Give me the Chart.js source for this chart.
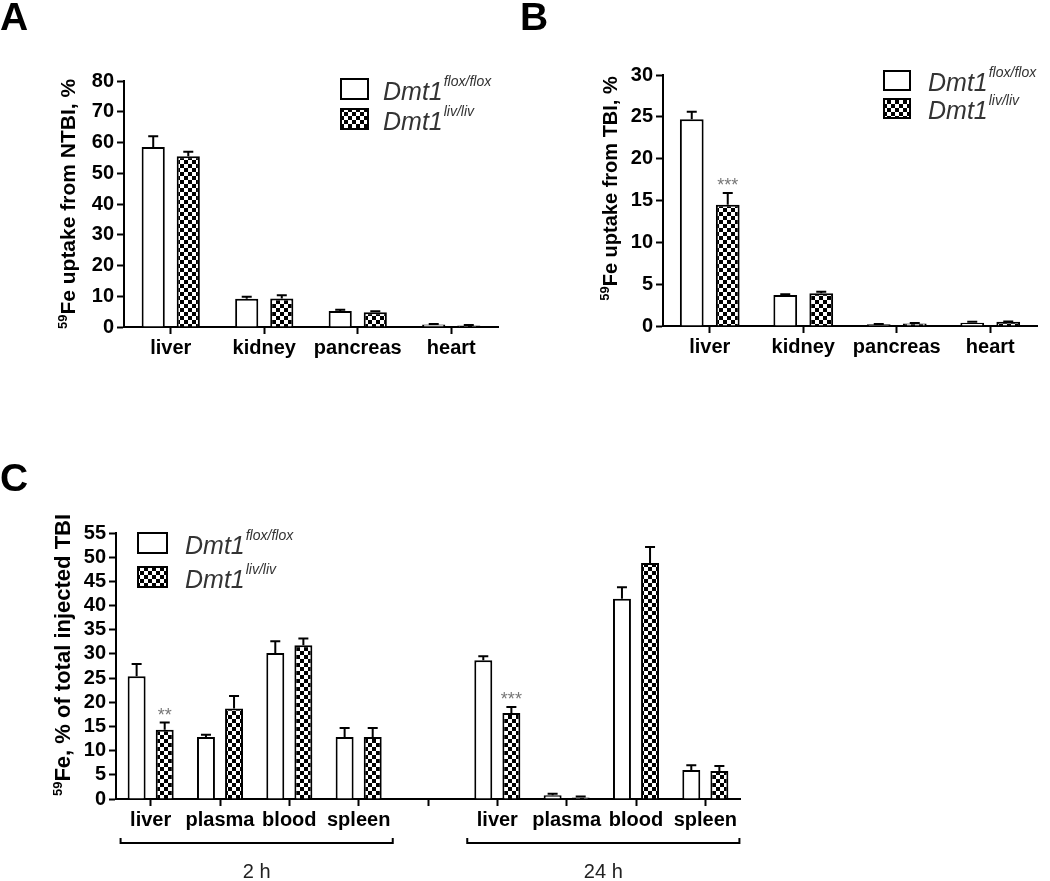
<!DOCTYPE html>
<html>
<head>
<meta charset="utf-8">
<script src="https://cdn.jsdelivr.net/npm/chart.js@4.4.0/dist/chart.umd.min.js"></script>
<style>
  body { margin: 0; background: #fff; width: 1050px; height: 881px; position: relative; overflow: hidden; }
  canvas { position: absolute; }
</style>
</head>
<body>
<canvas id="chartA" width="525" height="375" style="left:0;top:0"></canvas>
<canvas id="chartB" width="535" height="375" style="left:515px;top:0"></canvas>
<canvas id="chartC" width="760" height="426" style="left:0;top:455px"></canvas>
<script>
const FONT = '"Liberation Sans", Arial, sans-serif';

// series names (legend)
const seriesName = ['Dmt1', 'Dmt1'];
const seriesSup = ['flox/flox', 'liv/liv'];

// panel A: uptake from NTBI
const categoriesA = ['liver', 'kidney', 'pancreas', 'heart'];
const floxA = [58.5, 9.2, 5.2, 0.8];
const floxSemA = [3.5, 0.6, 0.4, 0.2];
const livA = [55.5, 9.3, 4.8, 0.5];
const livSemA = [1.5, 1.0, 0.3, 0.15];
const sigA = ['', '', '', ''];
const yTicksA = [0, 10, 20, 30, 40, 50, 60, 70, 80];

// panel B: uptake from TBI
const categoriesB = ['liver', 'kidney', 'pancreas', 'heart'];
const floxB = [24.7, 3.7, 0.2, 0.4];
const floxSemB = [0.9, 0.1, 0.05, 0.1];
const livB = [14.5, 3.9, 0.3, 0.5];
const livSemB = [1.4, 0.2, 0.05, 0.05];
const sigB = ['***', '', '', ''];
const yTicksB = [0, 5, 10, 15, 20, 25, 30];

// panel C: % of total injected TBI at 2 h and 24 h
const categoriesC = ['liver', 'plasma', 'blood', 'spleen', '', 'liver', 'plasma', 'blood', 'spleen'];
const floxC = [25.4, 12.8, 30.2, 12.8, null, 28.7, 0.8, 41.4, 6.0];
const floxSemC = [2.5, 0.5, 2.4, 1.9, null, 0.8, 0.3, 2.4, 1.0];
const livC = [14.3, 18.7, 31.8, 12.8, null, 17.8, 0.3, 48.8, 5.8];
const livSemC = [1.5, 2.6, 1.4, 1.9, null, 1.2, 0.2, 3.3, 1.0];
const sigC = ['**', '', '', '', '', '***', '', '', ''];
const yTicksC = [0, 5, 10, 15, 20, 25, 30, 35, 40, 45, 50, 55];
const groupLabelsC = ['2 h', '24 h'];
const groupFirstC = [0, 5];
const groupLastC = [3, 8];

// checkerboard fill for the liv/liv bars
function makeChecker() {
  const c = document.createElement('canvas');
  c.width = 8; c.height = 8;
  const g = c.getContext('2d');
  g.fillStyle = '#fff'; g.fillRect(0, 0, 8, 8);
  g.fillStyle = '#000'; g.fillRect(0, 0, 4, 4); g.fillRect(4, 4, 4, 4);
  return c;
}
const checker = document.createElement('canvas').getContext('2d').createPattern(makeChecker(), 'repeat');

// error bars, stars, legend, y title, panel letter, group brackets
const figurePlugin = {
  id: 'figure',
  afterDatasetsDraw(chart, args, opts) {
    const ctx = chart.ctx;
    const y = chart.scales.y;
    ctx.save();
    ctx.strokeStyle = '#000';
    ctx.lineWidth = 2;
    chart.data.datasets.forEach((ds, i) => {
      chart.getDatasetMeta(i).data.forEach((bar, j) => {
        const v = ds.data[j];
        if (v == null) return;
        const top = y.getPixelForValue(v + ds.sem[j]);
        ctx.beginPath();
        ctx.moveTo(bar.x, bar.y);
        ctx.lineTo(bar.x, top);
        ctx.moveTo(bar.x - opts.cap, top);
        ctx.lineTo(bar.x + opts.cap, top);
        ctx.stroke();
        if (ds.sig[j]) {
          ctx.fillStyle = '#777';
          ctx.font = '18px ' + FONT;
          ctx.textAlign = 'center';
          ctx.textBaseline = 'alphabetic';
          ctx.fillText(ds.sig[j], bar.x, top - 2);
        }
      });
    });
    ctx.restore();
  },
  afterDraw(chart, args, opts) {
    const ctx = chart.ctx;
    const area = chart.chartArea;
    ctx.save();

    // panel letter
    ctx.fillStyle = '#000';
    ctx.font = 'bold 39px ' + FONT;
    ctx.textAlign = 'left';
    ctx.textBaseline = 'alphabetic';
    ctx.fillText(opts.letter.text, opts.letter.x, opts.letter.y);

    // legend
    const lg = opts.legend;
    chart.data.datasets.forEach((ds, i) => {
      const by = lg.y + i * lg.gap;
      ctx.fillStyle = ds.backgroundColor;
      ctx.fillRect(lg.x, by, lg.w, lg.h);
      ctx.strokeStyle = '#000';
      ctx.lineWidth = 2;
      ctx.strokeRect(lg.x + 1, by + 1, lg.w - 2, lg.h - 2);
      ctx.fillStyle = '#333';
      ctx.font = 'italic 25px ' + FONT;
      const tx = lg.x + lg.w + lg.textGap;
      const base = by + lg.h;
      ctx.fillText(ds.label, tx, base);
      const w = ctx.measureText(ds.label).width;
      ctx.font = 'italic 14px ' + FONT;
      ctx.fillText(ds.sup, tx + w + 1, base - 14);
    });

    // rotated y title with superscript 59
    const t = opts.yTitle;
    ctx.translate(t.x, (area.top + area.bottom) / 2 + t.dy);
    ctx.rotate(-Math.PI / 2);
    ctx.fillStyle = '#000';
    ctx.font = 'bold ' + t.size + 'px ' + FONT;
    const wMain = ctx.measureText(t.text).width;
    ctx.font = 'bold 13px ' + FONT;
    const wSup = ctx.measureText(t.sup).width;
    const u0 = -(wMain + wSup) / 2;
    ctx.fillText(t.sup, u0, -1);
    ctx.font = 'bold ' + t.size + 'px ' + FONT;
    ctx.fillText(t.text, u0 + wSup, 7);
    ctx.setTransform(1, 0, 0, 1, 0, 0);

    // group brackets under the x axis
    if (opts.groups) {
      const x = chart.scales.x;
      const half = x.width / chart.data.labels.length * opts.groups.cp / 2;
      opts.groups.labels.forEach((lab, k) => {
        const x0 = x.getPixelForValue(opts.groups.first[k]) - half - 2;
        const x1 = x.getPixelForValue(opts.groups.last[k]) + half + 6;
        const yb = opts.groups.y;
        ctx.strokeStyle = '#000';
        ctx.lineWidth = 2;
        ctx.beginPath();
        ctx.moveTo(x0, yb - 5); ctx.lineTo(x0, yb);
        ctx.lineTo(x1, yb); ctx.lineTo(x1, yb - 5);
        ctx.stroke();
        ctx.fillStyle = '#222';
        ctx.font = '20px ' + FONT;
        ctx.textAlign = 'center';
        ctx.textBaseline = 'middle';
        ctx.fillText(lab, (x0 + x1) / 2, opts.groups.labelY);
      });
    }
    ctx.restore();
  }
};

function barChart(id, cfg) {
  const ticks = cfg.yTicks;
  return new Chart(document.getElementById(id), {
    type: 'bar',
    data: {
      labels: cfg.labels,
      datasets: [
        { label: seriesName[0], sup: seriesSup[0], data: cfg.flox, sem: cfg.floxSem, sig: cfg.labels.map(() => ''),
          backgroundColor: '#fff', borderColor: '#000', borderWidth: 2,
          barPercentage: cfg.bp, categoryPercentage: cfg.cp },
        { label: seriesName[1], sup: seriesSup[1], data: cfg.liv, sem: cfg.livSem, sig: cfg.sig,
          backgroundColor: checker, borderColor: '#000', borderWidth: 2,
          barPercentage: cfg.bp, categoryPercentage: cfg.cp }
      ]
    },
    options: {
      responsive: false,
      animation: false,
      devicePixelRatio: 1,
      layout: { padding: cfg.padding },
      plugins: {
        legend: { display: false },
        tooltip: { enabled: false },
        figure: cfg.figure
      },
      scales: {
        x: {
          offset: true,
          border: { display: true, color: '#000', width: 2 },
          grid: { display: true, drawOnChartArea: false, drawTicks: true, tickLength: 7, tickWidth: 2, tickColor: '#000', offset: false },
          ticks: { color: '#000', font: { family: FONT, size: cfg.xFont, weight: 'bold' }, padding: 2, maxRotation: 0, autoSkip: false },
          afterFit: s => { s.height = cfg.xHeight; }
        },
        y: {
          min: ticks[0],
          max: ticks[ticks.length - 1],
          border: { display: true, color: '#000', width: 2 },
          grid: { display: true, drawOnChartArea: false, drawTicks: true, tickLength: 7, tickWidth: 2, tickColor: '#000' },
          ticks: { stepSize: ticks[1] - ticks[0], autoSkip: false, color: '#000', font: { family: FONT, size: cfg.yFont, weight: 'bold' }, padding: 3 },
          afterFit: s => { s.width = cfg.yWidth; }
        }
      }
    },
    plugins: [figurePlugin]
  });
}

barChart('chartA', {
  labels: categoriesA, flox: floxA, floxSem: floxSemA, liv: livA, livSem: livSemA, sig: sigA, yTicks: yTicksA,
  bp: 0.66, cp: 0.75, xFont: 20, yFont: 20,
  padding: { left: 0, top: 81, right: 27, bottom: 0 }, yWidth: 124, xHeight: 48,
  figure: {
    cap: 5,
    letter: { text: 'A', x: 0, y: 30 },
    legend: { x: 340, y: 78, w: 29, h: 22, gap: 30, textGap: 14 },
    yTitle: { x: 68, dy: 0, size: 21, sup: '59', text: 'Fe uptake from NTBI, %' }
  }
});

barChart('chartB', {
  labels: categoriesB, flox: floxB, floxSem: floxSemB, liv: livB, livSem: livSemB, sig: sigB, yTicks: yTicksB,
  bp: 0.66, cp: 0.77, xFont: 20, yFont: 20,
  padding: { left: 0, top: 75, right: 13, bottom: 0 }, yWidth: 148, xHeight: 49,
  figure: {
    cap: 5,
    letter: { text: 'B', x: 5, y: 30 },
    legend: { x: 368, y: 70, w: 28, h: 21, gap: 28, textGap: 17 },
    yTitle: { x: 95, dy: -12, size: 20, sup: '59', text: 'Fe uptake from TBI, %' }
  }
});

barChart('chartC', {
  labels: categoriesC, flox: floxC, floxSem: floxSemC, liv: livC, livSem: livSemC, sig: sigC, yTicks: yTicksC,
  bp: 0.64, cp: 0.81, xFont: 20, yFont: 20,
  padding: { left: 0, top: 78, right: 20, bottom: 0 }, yWidth: 116, xHeight: 82,
  figure: {
    cap: 5,
    letter: { text: 'C', x: 0, y: 36 },
    legend: { x: 137, y: 77, w: 31, h: 22, gap: 34, textGap: 17 },
    yTitle: { x: 63, dy: -11, size: 22, sup: '59', text: 'Fe, % of total injected TBI' },
    groups: { labels: groupLabelsC, first: groupFirstC, last: groupLastC, cp: 0.81, y: 388, labelY: 417 }
  }
});
</script>
</body>
</html>
